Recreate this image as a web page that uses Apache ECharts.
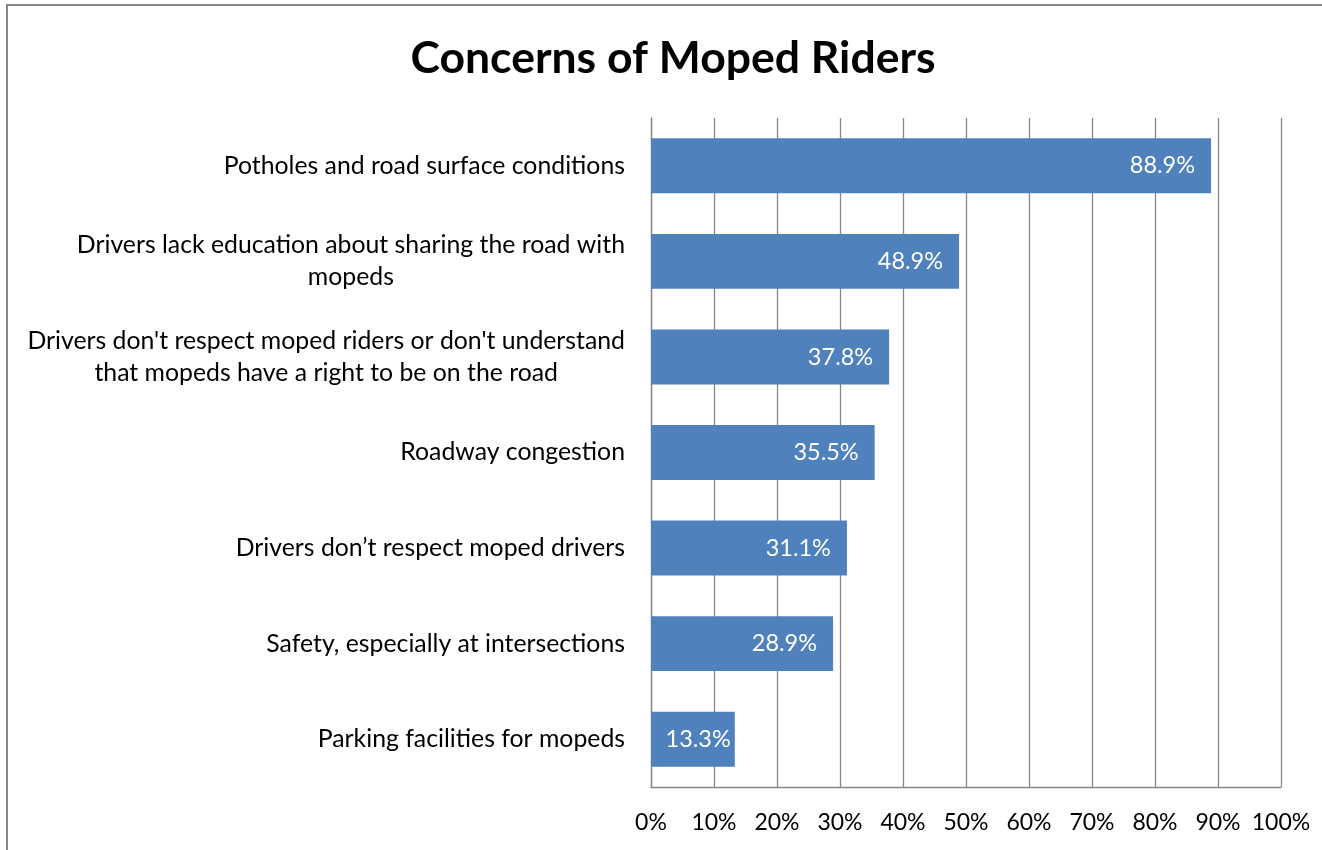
<!DOCTYPE html>
<html>
<head>
<meta charset="utf-8">
<script src="https://cdn.jsdelivr.net/npm/echarts@6/dist/echarts.min.js"></script>
<style>
html,body{margin:0;padding:0;background:#fff;}
#chart{width:1322px;height:850px;}
</style>
</head>
<body>
<div id="chart"></div>
<script>
const titleText = "Concerns of Moped Riders";
const categories = [
  "Potholes and road surface conditions",
  "Drivers lack education about sharing the road with\nmopeds",
  "Drivers don't respect moped riders or don't understand\nthat mopeds have a right to be on the road",
  "Roadway congestion",
  "Drivers don\u2019t respect moped drivers",
  "Safety, especially at intersections",
  "Parking facilities for mopeds"
];
const values = [88.9, 48.9, 37.8, 35.5, 31.1, 28.9, 13.3];
const tickMin = 0, tickMax = 100, tickStep = 10;

const FONT = "Lato";
const chart = echarts.init(document.getElementById('chart'), null, {renderer:'canvas'});

const seriesData = values.map(v => ({
  value: v,
  label: { distance: v < 20 ? 4 : 16 }
}));

chart.setOption({
  animation: false,
  backgroundColor: '#ffffff',
  graphic: [{
    type: 'rect',
    shape: { x: 7, y: 5, width: 1340, height: 880 },
    style: { fill: 'none', stroke: '#878787', lineWidth: 2 },
    silent: true
  }],
  title: {
    text: titleText,
    left: 668,
    top: 31,
    textAlign: 'center',
    textStyle: { fontFamily: FONT, fontWeight: 'bold', fontSize: 44.5, color: '#000' }
  },
  grid: { left: 651, right: 41, top: 118, bottom: 63, containLabel: false },
  xAxis: {
    type: 'value',
    min: tickMin, max: tickMax, interval: tickStep,
    axisLine: { show: true, lineStyle: { color: '#878787', width: 1.3 } },
    axisTick: { show: false },
    splitLine: { show: true, lineStyle: { color: '#878787', width: 1.3 } },
    axisLabel: {
      formatter: '{value}%',
      fontFamily: FONT, fontSize: 23, color: '#000', margin: 24
    }
  },
  yAxis: {
    type: 'category',
    inverse: true,
    data: categories,
    axisLine: { show: true, lineStyle: { color: '#878787', width: 1.3 } },
    axisTick: { show: false },
    splitLine: { show: false },
    axisLabel: {
      fontFamily: FONT, fontSize: 24.8, color: '#000', margin: 26,
      align: 'right', lineHeight: 32,
      formatter: function (s) {
        return s.split('\n').map(l => '{c|' + l + '}').join('\n');
      },
      rich: { c: { align: 'center', fontFamily: FONT, fontSize: 24.8, color: '#000', lineHeight: 32 } }
    }
  },
  series: [{
    type: 'bar',
    data: seriesData,
    barCategoryGap: '42.5%',
    itemStyle: { color: '#4F81BD' },
    label: {
      show: true,
      position: 'insideRight',
      formatter: p => p.value.toFixed(1) + '%',
      fontFamily: FONT, fontSize: 23.5, color: '#fff'
    }
  }]
});
</script>
</body>
</html>
